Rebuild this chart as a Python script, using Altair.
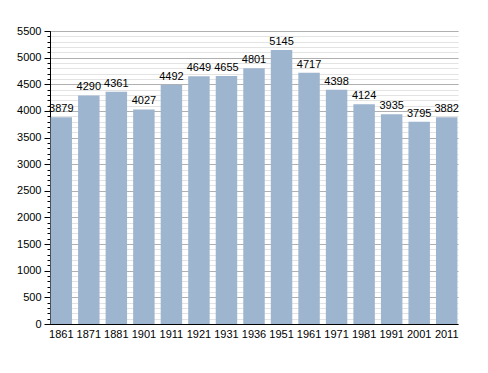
import altair as alt
import pandas as pd

years = ["1861", "1871", "1881", "1901", "1911", "1921", "1931", "1936", "1951",
         "1961", "1971", "1981", "1991", "2001", "2011"]
population = [3879, 4290, 4361, 4027, 4492, 4649, 4655, 4801, 5145, 4717, 4398,
              4124, 3935, 3795, 3882]
major_ticks = list(range(0, 5501, 500))
minor_ticks = list(range(0, 5501, 100))

df = pd.DataFrame({"year": years, "pop": population})

FONT = "Liberation Sans"

x_scale = alt.Scale(paddingInner=0.22, paddingOuter=0.02)
y_scale = alt.Scale(domain=[0, 5500], nice=False)

x_enc = alt.X("year:N", sort=years, title=None, scale=x_scale,
              axis=alt.Axis(labelAngle=0, labelFontSize=11, labelFont=FONT,
                            labelColor="#000", domainColor="#000", ticks=False,
                            labelPadding=4))

minor = alt.Chart(df).mark_bar(opacity=0).encode(
    x=x_enc,
    y=alt.Y("pop:Q", title=None, scale=y_scale,
            axis=alt.Axis(values=minor_ticks, labels=False, domain=False,
                          orient="left", tickSize=3, tickColor="#000",
                          grid=True, gridColor="#e3e3e3", gridWidth=1)),
)

bars = alt.Chart(df).mark_bar(color="#9eb5cf").encode(
    x=x_enc,
    y=alt.Y("pop:Q", title=None, scale=y_scale,
            axis=alt.Axis(values=major_ticks, orient="left", tickSize=6,
                          format="d",
                          tickColor="#000", domainColor="#000",
                          labelFontSize=11, labelFont=FONT, labelColor="#000",
                          labelPadding=3,
                          grid=True, gridColor="#b0b0b0", gridWidth=1)),
)

labels = alt.Chart(df).mark_text(dy=-8, fontSize=11, font=FONT, color="#000").encode(
    x=x_enc,
    y=alt.Y("pop:Q", scale=y_scale, axis=None),
    text=alt.Text("pop:Q", format="d"),
)

chart = alt.layer(minor, bars, labels).resolve_axis(y="independent").properties(
    width=408, height=293,
    autosize=alt.AutoSizeParams(type="none"),
    padding={"left": 42, "top": 23, "right": 22, "bottom": 49},
    background="white",
).configure_view(stroke=None).configure_axis(labelFont=FONT)

chart.save("out.html", embed_options={"renderer": "svg", "actions": False})
